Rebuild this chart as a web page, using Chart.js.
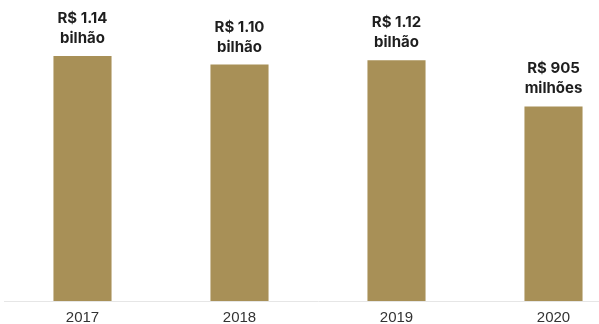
<!DOCTYPE html>
<html>
<head>
<meta charset="utf-8">
<script src="https://cdn.jsdelivr.net/npm/chart.js@4"></script>
<style>
html,body{margin:0;padding:0;background:#fff;overflow:hidden;}
#wrap{position:relative;width:636px;height:324px;}
</style>
</head>
<body>
<div id="wrap"><canvas id="c"></canvas></div>
<script>
const categories = ["2017", "2018", "2019", "2020"];
const values = [1.14, 1.10, 1.12, 0.905];
const valueLabels = ["R$ 1.14", "R$ 1.10", "R$ 1.12", "R$ 905"];
const unitLabels = ["bilhão", "bilhão", "bilhão", "milhões"];

const labelPlugin = {
  id: 'barLabels',
  afterDatasetsDraw(chart) {
    const ctx = chart.ctx;
    const meta = chart.getDatasetMeta(0);
    ctx.save();
    ctx.fillStyle = '#1e1e1e';
    ctx.font = '700 15px Inter';
    ctx.textAlign = 'center';
    ctx.textBaseline = 'alphabetic';
    meta.data.forEach((bar, i) => {
      ctx.fillText(valueLabels[i], bar.x, bar.y - 33);
      ctx.fillText(unitLabels[i], bar.x, bar.y - 13);
    });
    ctx.restore();
  }
};

new Chart(document.getElementById('c'), {
  type: 'bar',
  data: {
    labels: categories,
    datasets: [{
      data: values,
      backgroundColor: '#a89057',
      borderWidth: 0,
      barPercentage: 0.37,
      categoryPercentage: 1
    }]
  },
  options: {
    responsive: true,
    maintainAspectRatio: false,
    animation: false,
    layout: { padding: { left: 4, right: 4, top: 0, bottom: 0 } },
    plugins: { legend: { display: false }, tooltip: { enabled: false } },
    scales: {
      x: {
        grid: { display: false, drawTicks: false },
        border: { display: true, color: '#e6e6e6', width: 1 },
        ticks: { color: '#333333', font: { family: 'Liberation Sans', size: 15 }, padding: 8 },
        afterFit(scale) { scale.height = 23; }
      },
      y: {
        display: false,
        min: 0,
        max: 1.4
      }
    }
  },
  plugins: [labelPlugin]
});
</script>
</body>
</html>
